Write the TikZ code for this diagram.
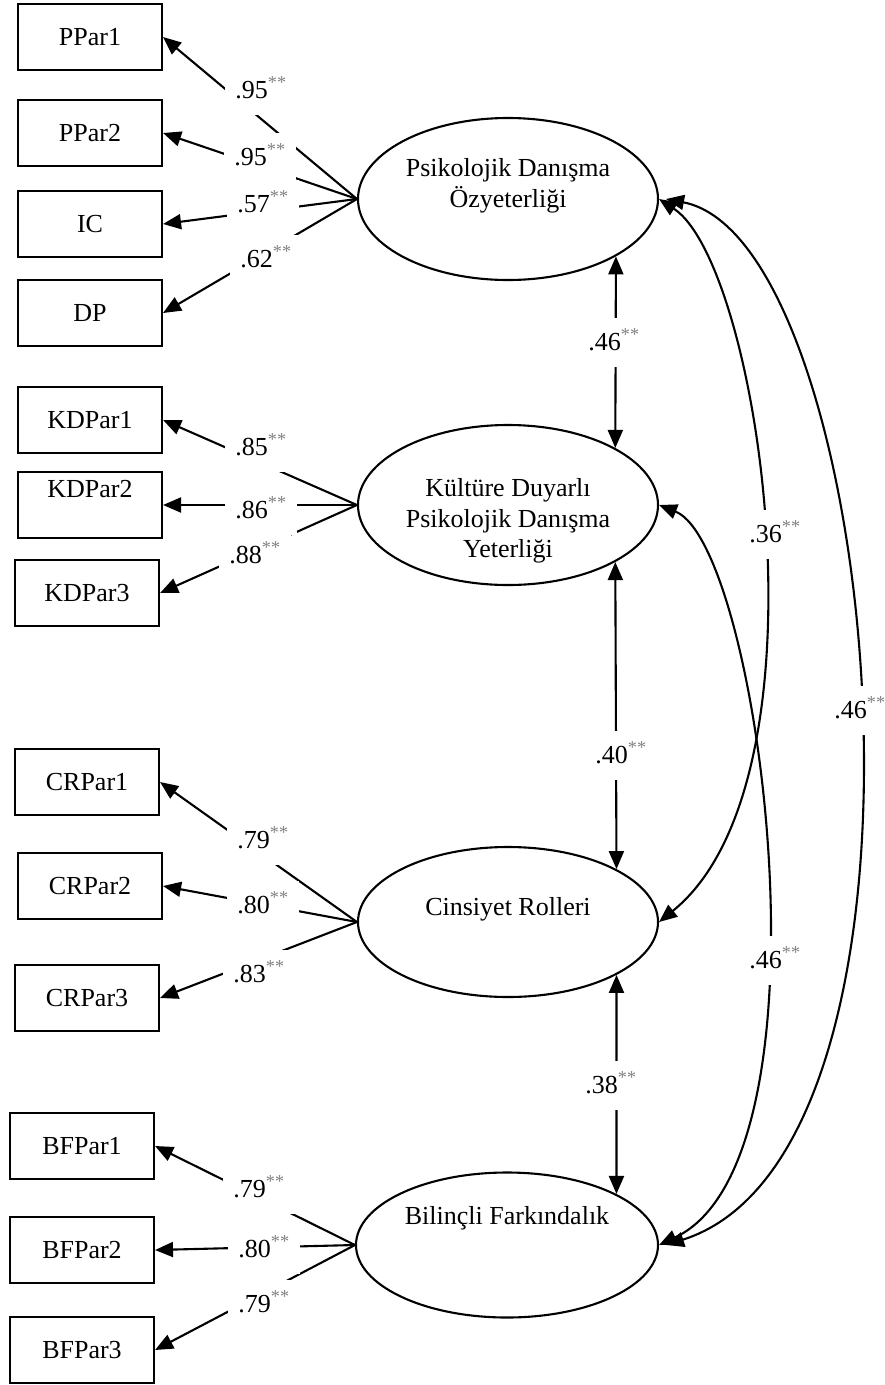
\documentclass[tikz,border=0pt]{standalone}
\usepackage{fontspec}
\setmainfont{Liberation Serif}
\usetikzlibrary{shapes.geometric,arrows.meta}
\newcommand{\sigstars}{\textsuperscript{\textcolor{black!50}{**}}}
\begin{document}
\begin{tikzpicture}[x=1pt,y=-1pt,
  every node/.style={font=\fontsize{26}{30.5}\selectfont},
  box/.style={draw,line width=2.1pt,minimum width=144pt,minimum height=66pt,inner sep=0pt},
  lat/.style={draw,ellipse,line width=2.1pt,inner sep=0pt},
  ln/.style={line width=2.1pt},
  tip/.style={ln,-{Triangle[length=18pt,width=15pt]}},
  dbl/.style={ln,{Triangle[length=18pt,width=15pt]}-{Triangle[length=18pt,width=15pt]}},
  coef/.style={fill=white,inner xsep=10pt,inner ysep=11pt,text depth=6pt,anchor=base},
]
\useasboundingbox (0,0) rectangle (885,1385);

% observed variables
\node[box] (pp1) at (90,37) {PPar1};
\node[box] (pp2) at (90,133) {PPar2};
\node[box] (ic)  at (90,224) {IC};
\node[box] (dp)  at (90,313) {DP};
\node[box] (kd1) at (90,420) {KDPar1};
\node[box,label={[anchor=center,yshift=16pt]center:KDPar2}] (kd2) at (90,505) {};
\node[box] (kd3) at (87,593) {KDPar3};
\node[box] (cr1) at (87,782) {CRPar1};
\node[box] (cr2) at (90,886) {CRPar2};
\node[box] (cr3) at (87,998) {CRPar3};
\node[box] (bf1) at (82,1146) {BFPar1};
\node[box] (bf2) at (82,1250) {BFPar2};
\node[box] (bf3) at (82,1350) {BFPar3};

% latent variables
\node[lat,minimum width=300pt,minimum height=162pt] (e1) at (508,199) {};
\node[lat,minimum width=300pt,minimum height=160pt] (e2) at (508,505) {};
\node[lat,minimum width=300pt,minimum height=150pt] (e3) at (508,922) {};
\node[lat,minimum width=302pt,minimum height=145pt] (e4) at (507,1245) {};
\node[align=center,inner sep=0pt] (t1) at (508,186) {Psikolojik Danışma\\Özyeterliği};
\node[align=center,inner sep=0pt] (t2) at (508,521) {Kültüre Duyarlı\\Psikolojik Danışma\\Yeterliği};
\node[anchor=base] (t3) at (508,915) {Cinsiyet Rolleri};
\node[anchor=base] (t4) at (507,1224) {Bilinçli Farkındalık};

% loadings
\draw[tip] (e1.west) -- (pp1.east);
\draw[tip] (e1.west) -- (pp2.east);
\draw[tip] (e1.west) -- (ic.east);
\draw[tip] (e1.west) -- (dp.east);
\draw[tip] (e2.west) -- (kd1.east);
\draw[tip] (e2.west) -- (kd2.east);
\draw[tip] (e2.west) -- (kd3.east);
\draw[tip] (e3.west) -- (cr1.east);
\draw[tip] (e3.west) -- (cr2.east);
\draw[tip] (e3.west) -- (cr3.east);
\draw[tip] (e4.west) -- (bf1.east);
\draw[tip] (e4.west) -- (bf2.east);
\draw[tip] (e4.west) -- (bf3.east);

% correlations
\draw[dbl] (e1.-28) -- (e2.28);
\draw[dbl] (e2.-28) -- (e3.26);
\draw[dbl] (e3.-26) -- (e4.25);
\draw[dbl] (e1.east) .. controls (760,265) and (835,780) .. (e3.east);
\draw[dbl] (e2.east) .. controls (760,545) and (840,1160) .. (e4.east);
\draw[dbl] ([xshift=7pt]e1.east) .. controls (880,240) and (965,1150) .. ([xshift=7pt]e4.east);

% coefficient labels
\node[coef] (l1) at (261,98) {.95\sigstars};
\node[coef] (l2) at (260,165) {.95\sigstars};
\node[coef] (l3) at (263,212) {.57\sigstars};
\node[coef] (l4) at (266,267) {.62\sigstars};
\node[coef] (l5) at (261,455) {.85\sigstars};
\node[coef] (l6) at (261,518) {.86\sigstars};
\node[coef] (l7) at (255,563) {.88\sigstars};
\node[coef] (l8) at (263,848) {.79\sigstars};
\node[coef] (l9) at (263,913) {.80\sigstars};
\node[coef] (l10) at (259,982) {.83\sigstars};
\node[coef] (l11) at (259,1197) {.79\sigstars};
\node[coef] (l12) at (264,1257) {.80\sigstars};
\node[coef] (l13) at (264,1312) {.79\sigstars};
\node[coef] (c1) at (614,350) {.46\sigstars};
\node[coef] (c2) at (621,763) {.40\sigstars};
\node[coef] (c3) at (611,1093) {.38\sigstars};
\node[coef] (c4) at (775,542) {.36\sigstars};
\node[coef] (c5) at (775,968) {.46\sigstars};
\node[coef] (c6) at (860,718) {.46\sigstars};
\end{tikzpicture}
\end{document}
